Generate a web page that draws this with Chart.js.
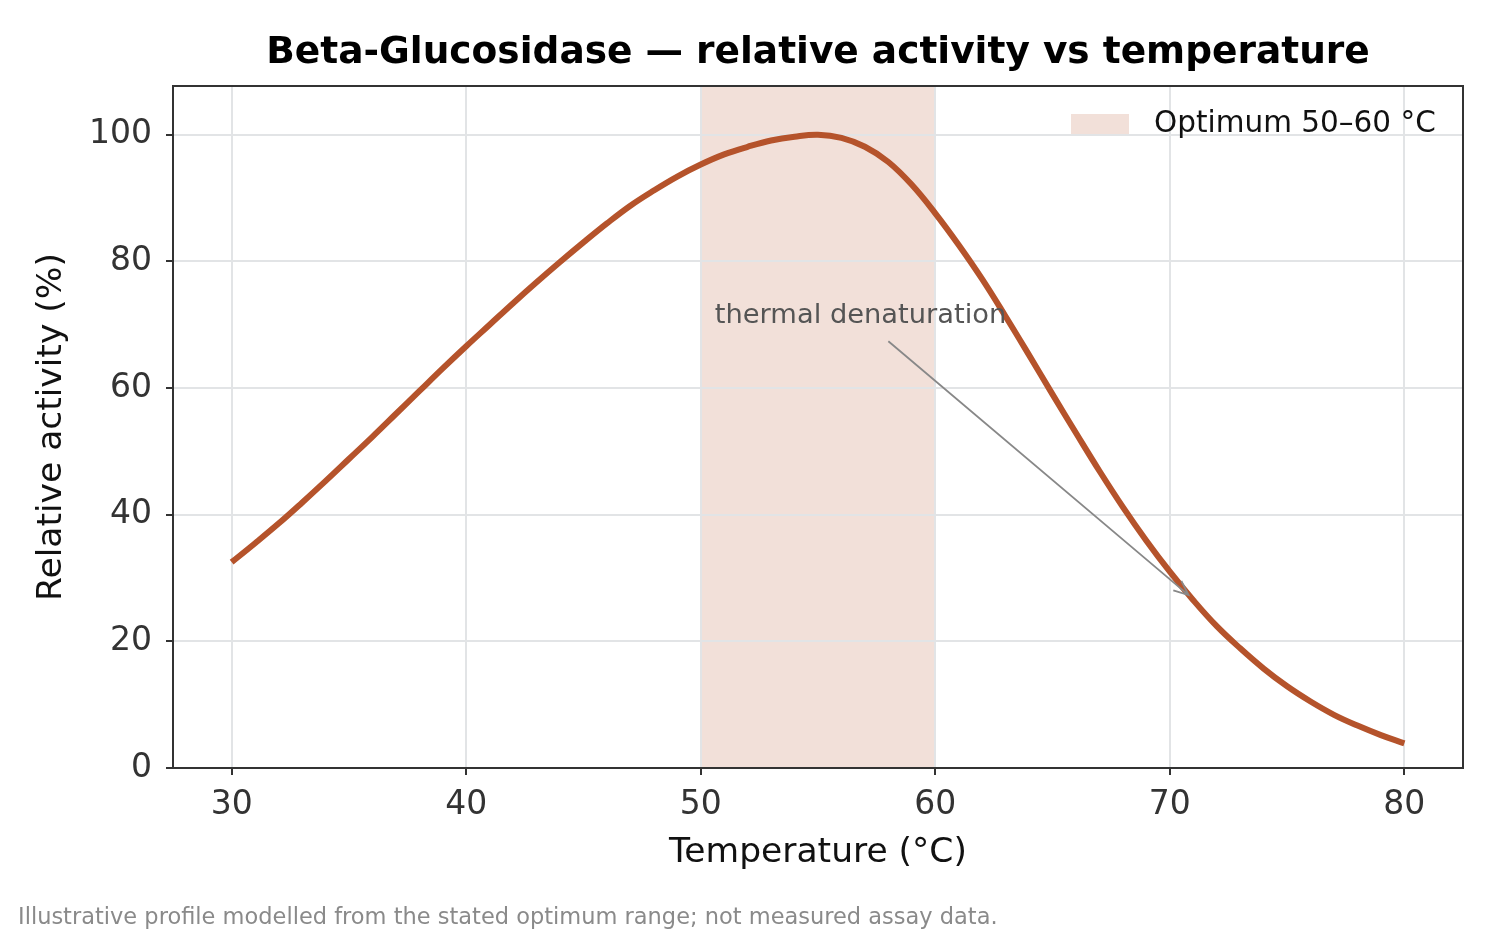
<!DOCTYPE html>
<html>
<head>
<meta charset="utf-8">
<script src="https://cdn.jsdelivr.net/npm/chart.js@4.4.1/dist/chart.umd.min.js"></script>
<style>
  html, body { margin: 0; padding: 0; background: #fff; }
  #wrap { width: 1500px; height: 937px; position: relative; }
</style>
</head>
<body>
<div id="wrap"><canvas id="chartActividad"></canvas></div>
<script>
// Datos
const temperaturas = [30, 31, 32, 33, 34, 35, 36, 37, 38, 39, 40, 41, 42, 43, 44, 45, 46, 47, 48, 49,
    50, 51, 52, 53, 54, 55, 56, 57, 58, 59, 60, 61, 62, 63, 64, 65, 66, 67, 68, 69,
    70, 71, 72, 73, 74, 75, 76, 77, 78, 79, 80];
const actividad = [32.5, 35.5, 38.6, 41.9, 45.3, 48.8, 52.3, 55.9, 59.5, 63.1,
    66.6, 70.0, 73.4, 76.7, 79.9, 83.0, 86.0, 88.8, 91.2, 93.4,
    95.3, 96.9, 98.1, 99.1, 99.7, 100.0, 99.5, 98.1, 95.7, 92.1,
    87.6, 82.6, 77.2, 71.3, 65.2, 59.0, 52.9, 46.9, 41.2, 35.9,
    31.0, 26.5, 22.4, 18.9, 15.7, 12.9, 10.5, 8.4, 6.7, 5.2, 3.9];
const ticksX = [30, 40, 50, 60, 70, 80];
const ticksY = [0, 20, 40, 60, 80, 100];
const rangoOptimo = [50, 60];
const etiquetaOptimo = 'Optimum 50–60 °C';
const textoAnotacion = 'thermal denaturation';
const posTextoAnotacion = [50.6, 71.4];
const colaFlecha = [58.0, 67.4];
const puntaFlecha = [70.8, 27.3];

const titulo = 'Beta-Glucosidase — relative activity vs temperature';
const tituloX = 'Temperature (°C)';
const tituloY = 'Relative activity (%)';
const nota = 'Illustrative profile modelled from the stated optimum range; not measured assay data.';

const FUENTE = '"DejaVu Sans", sans-serif';
const colorLinea = '#b5532b';

const canvas = document.getElementById('chartActividad');
const ctx = canvas.getContext('2d');

// Banda del rango óptimo (debajo de la cuadrícula)
const pluginBanda = {
    id: 'banda',
    beforeDraw(chart) {
        const { ctx, chartArea, scales } = chart;
        const x0 = scales.x.getPixelForValue(rangoOptimo[0]);
        const x1 = scales.x.getPixelForValue(rangoOptimo[1]);
        ctx.save();
        ctx.fillStyle = 'rgba(181, 83, 43, 0.18)';
        ctx.fillRect(x0, chartArea.top, x1 - x0, chartArea.bottom - chartArea.top);
        ctx.restore();
    }
};

// Textos, marco, leyenda y anotación
const pluginTextos = {
    id: 'textos',
    afterDraw(chart) {
        const { ctx, chartArea, scales } = chart;
        ctx.save();

        // marco
        ctx.strokeStyle = '#333';
        ctx.lineWidth = 2;
        ctx.strokeRect(chartArea.left, chartArea.top, chartArea.right - chartArea.left, chartArea.bottom - chartArea.top);

        // título
        ctx.fillStyle = '#000';
        ctx.font = 'bold 37.5px ' + FUENTE;
        ctx.textAlign = 'center';
        ctx.textBaseline = 'middle';
        const cx = (chartArea.left + chartArea.right) / 2;
        ctx.fillText(titulo, cx, 53);

        // títulos de ejes
        ctx.font = '34.5px ' + FUENTE;
        ctx.fillStyle = '#111';
        ctx.fillText(tituloX, cx, 853);
        ctx.save();
        ctx.translate(52, (chartArea.top + chartArea.bottom) / 2);
        ctx.rotate(-Math.PI / 2);
        ctx.fillText(tituloY, 0, 0);
        ctx.restore();

        // nota al pie
        ctx.font = '22.5px ' + FUENTE;
        ctx.fillStyle = '#8a8a8a';
        ctx.textAlign = 'left';
        ctx.fillText(nota, 18, 918);

        // leyenda
        ctx.fillStyle = 'rgba(181, 83, 43, 0.18)';
        ctx.fillRect(1071, 114, 58, 20);
        ctx.fillStyle = '#111';
        ctx.font = '29.5px ' + FUENTE;
        ctx.fillText(etiquetaOptimo, 1154, 124);

        // anotación
        const tx = scales.x.getPixelForValue(posTextoAnotacion[0]);
        const ty = scales.y.getPixelForValue(posTextoAnotacion[1]);
        ctx.font = '27.3px ' + FUENTE;
        ctx.fillStyle = '#555';
        ctx.fillText(textoAnotacion, tx, ty);

        const ax = scales.x.getPixelForValue(colaFlecha[0]);
        const ay = scales.y.getPixelForValue(colaFlecha[1]);
        const bx = scales.x.getPixelForValue(puntaFlecha[0]);
        const by = scales.y.getPixelForValue(puntaFlecha[1]);
        ctx.strokeStyle = '#888';
        ctx.lineWidth = 1.8;
        ctx.beginPath();
        ctx.moveTo(ax, ay);
        ctx.lineTo(bx, by);
        const ang = Math.atan2(by - ay, bx - ax);
        const L = 16, W = 0.4;
        ctx.moveTo(bx - L * Math.cos(ang - W), by - L * Math.sin(ang - W));
        ctx.lineTo(bx, by);
        ctx.lineTo(bx - L * Math.cos(ang + W), by - L * Math.sin(ang + W));
        ctx.stroke();

        ctx.restore();
    }
};

const data = {
    labels: temperaturas,
    datasets: [{
        label: 'Relative activity',
        data: temperaturas.map((t, i) => ({ x: t, y: actividad[i] })),
        borderColor: colorLinea,
        borderWidth: 6,
        pointRadius: 0,
        tension: 0.4,
        fill: false
    }]
};

const chartActividad = new Chart(ctx, {
    type: 'line',
    data: data,
    options: {
        responsive: true,
        maintainAspectRatio: false,
        animation: false,
        layout: { padding: { left: 0, top: 86, right: 37, bottom: 0 } },
        plugins: {
            legend: { display: false },
            tooltip: { enabled: false },
            title: { display: false }
        },
        scales: {
            x: {
                type: 'linear',
                min: 27.5,
                max: 82.5,
                afterBuildTicks: (scale) => { scale.ticks = ticksX.map(v => ({ value: v })); },
                afterFit: (scale) => { scale.height = 937 - 768; },
                grid: { color: '#e2e4e6', lineWidth: 2, tickColor: '#333', tickLength: 7, tickWidth: 2 },
                border: { color: '#333', width: 2 },
                ticks: { color: '#333', font: { family: FUENTE, size: 33 }, padding: 11, maxRotation: 0 }
            },
            y: {
                min: 0,
                max: 107.7,
                afterBuildTicks: (scale) => { scale.ticks = ticksY.map(v => ({ value: v })); },
                afterFit: (scale) => { scale.width = 173; },
                grid: { color: '#e2e4e6', lineWidth: 2, tickColor: '#333', tickLength: 7, tickWidth: 2 },
                border: { color: '#333', width: 2 },
                ticks: { color: '#333', font: { family: FUENTE, size: 33 }, padding: 14 }
            }
        }
    },
    plugins: [pluginBanda, pluginTextos]
});
</script>
</body>
</html>
